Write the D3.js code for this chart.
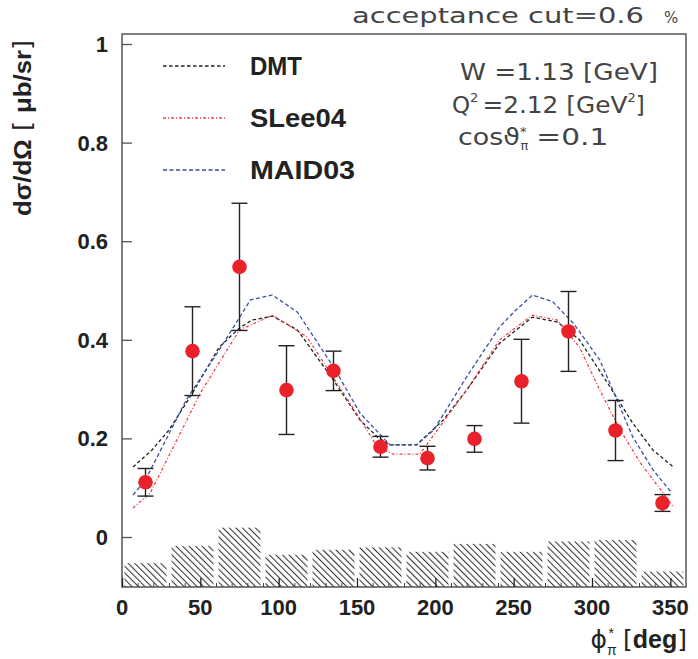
<!DOCTYPE html>
<html><head><meta charset="utf-8">
<script src="https://cdn.jsdelivr.net/npm/d3@7"></script>
<style>body{margin:0;background:#fff}svg{display:block}</style>
</head><body>
<svg id="c" width="698" height="659"></svg>
<script>
// ---- data ----
const phiBins = [15,45,75,105,135,165,195,225,255,285,315,345];
const xsec    = [0.111,0.377,0.548,0.298,0.337,0.183,0.160,0.199,0.316,0.417,0.216,0.069];
const xsecErr = [0.028,0.090,0.129,0.090,0.040,0.021,0.024,0.027,0.085,0.081,0.061,0.017];
const sysErr  = [-0.053,-0.018,0.019,-0.036,-0.026,-0.021,-0.030,-0.014,-0.030,-0.009,-0.006,-0.070];

const dmtPhi = [7,19,30,45,62,75,83,96,112,135,152,163,171,188,205,220,241,262,278,292,310,326,339,352];
const dmtVal = [0.142,0.176,0.217,0.292,0.385,0.424,0.440,0.448,0.420,0.318,0.237,0.203,0.187,0.187,0.237,0.298,0.393,0.446,0.436,0.400,0.312,0.231,0.176,0.142];

const sleePhi = [7,18,50,75,96,118,147,163,173,190,199,220,241,262,278,292,305,318,331,344,352];
const sleeVal = [0.059,0.089,0.292,0.420,0.450,0.406,0.264,0.183,0.168,0.168,0.207,0.298,0.400,0.450,0.440,0.385,0.298,0.217,0.150,0.095,0.061];

const maidPhi = [7,15,41,62,82,96,112,135,152,171,188,199,220,241,250,262,275,288,305,316,326,339,351];
const maidVal = [0.085,0.116,0.278,0.379,0.481,0.491,0.456,0.345,0.251,0.187,0.187,0.217,0.325,0.426,0.456,0.491,0.477,0.434,0.359,0.278,0.203,0.136,0.089];

const xTicks = [0,50,100,150,200,250,300,350];
const yTicks = [0,0.2,0.4,0.6,0.8,1];
const legendNames = ["DMT","SLee04","MAID03"];

// ---- layout ----
const svg = d3.select("#c");
const x = d3.scaleLinear().domain([0,360]).range([122,686]);
const y = d3.scaleLinear().domain([-0.1014,1.0203]).range([587,34]);
const frameCol = "#555";
const fnt = "Liberation Sans, Arial, sans-serif";
const fntL = "DejaVu Sans, sans-serif";

// hatch pattern
const defs = svg.append("defs");
const pat = defs.append("pattern").attr("id","hatch").attr("patternUnits","userSpaceOnUse")
  .attr("width",4.6).attr("height",4.6).attr("patternTransform","rotate(-45)");
pat.append("rect").attr("width",4.6).attr("height",4.6).attr("fill","#fff");
pat.append("line").attr("x1",0).attr("y1",0).attr("x2",0).attr("y2",4.6)
  .attr("stroke","#333").attr("stroke-width",2.1);

// systematic bars
svg.append("g").selectAll("rect").data(phiBins).join("rect")
  .attr("x",(d)=>x(d-13.4)).attr("width",(d)=>x(d+13.4)-x(d-13.4))
  .attr("y",(d,i)=>y(sysErr[i])).attr("height",(d,i)=>y(y.domain()[0])-y(sysErr[i]))
  .attr("fill","url(#hatch)");

// frame
svg.append("rect").attr("x",x(0)).attr("y",y(y.domain()[1]))
  .attr("width",x(360)-x(0)).attr("height",y(y.domain()[0])-y(y.domain()[1]))
  .attr("fill","none").attr("stroke",frameCol).attr("stroke-width",1.5);

// y axis
const yAxis = d3.axisRight(y).tickValues(yTicks).tickSize(10).tickFormat("");
const gy = svg.append("g").attr("transform",`translate(${x(0)},0)`).call(yAxis);
gy.select(".domain").remove();
gy.selectAll("line").attr("stroke",frameCol).attr("stroke-width",1.3);
svg.append("g").selectAll("text").data(yTicks).join("text")
  .attr("x",108).attr("y",d=>y(d)+8).attr("text-anchor","end")
  .attr("font-family",fnt).attr("font-weight","bold")
  .attr("font-size",22).attr("fill","#222").text(d=>d===0?"0":(d===1?"1":d3.format(".1f")(d)));

// x axis
const xAxis = d3.axisTop(x).tickValues(xTicks).tickSize(9).tickFormat("");
const gx = svg.append("g").attr("transform",`translate(0,${y(y.domain()[0])})`).call(xAxis);
gx.select(".domain").remove();
gx.selectAll("line").attr("stroke","#222").attr("stroke-width",1.3);
const xMinor = d3.axisTop(x).tickValues(d3.range(10,360,10).filter(v=>v%50!==0)).tickSize(4).tickFormat("");
const gxm = svg.append("g").attr("transform",`translate(0,${y(y.domain()[0])})`).call(xMinor);
gxm.select(".domain").remove();
gxm.selectAll("line").attr("stroke","#444").attr("stroke-width",1);
svg.append("g").selectAll("text").data(xTicks).join("text")
  .attr("x",d=>x(d)).attr("y",615).attr("text-anchor","middle")
  .attr("font-family",fnt).attr("font-weight","bold")
  .attr("font-size",22).attr("fill","#222").text(d=>d);

// model curves
const line = d3.line().x(d=>x(d[0])).y(d=>y(d[1]));
const curves = [
  {p:dmtPhi, v:dmtVal, col:"#222", dash:"3.5,2.5"},
  {p:sleePhi, v:sleeVal, col:"#f0404a", dash:"3,2,1,2"},
  {p:maidPhi, v:maidVal, col:"#3a4fa8", dash:"4,2.5"}
];
curves.forEach(c=>{
  svg.append("path").datum(c.p.map((p,i)=>[p,c.v[i]])).attr("d",line)
    .attr("fill","none").attr("stroke",c.col).attr("stroke-width",1.3).attr("stroke-dasharray",c.dash);
});

// error bars
const eg = svg.append("g").attr("stroke","#222").attr("stroke-width",1.4);
phiBins.forEach((p,i)=>{
  const cx = x(p), y1 = y(xsec[i]+xsecErr[i]), y2 = y(xsec[i]-xsecErr[i]);
  eg.append("line").attr("x1",cx).attr("x2",cx).attr("y1",y1).attr("y2",y2);
  eg.append("line").attr("x1",cx-8).attr("x2",cx+8).attr("y1",y1).attr("y2",y1);
  eg.append("line").attr("x1",cx-8).attr("x2",cx+8).attr("y1",y2).attr("y2",y2);
});
svg.append("g").selectAll("circle").data(phiBins).join("circle")
  .attr("cx",d=>x(d)).attr("cy",(d,i)=>y(xsec[i])).attr("r",7.3).attr("fill","#e8212b");

// legend
const legY = [66,118,170];
const legW = [52,96,105];
legendNames.forEach((n,i)=>{
  const c = curves[i];
  svg.append("line").attr("x1",163).attr("x2",225).attr("y1",legY[i]).attr("y2",legY[i])
    .attr("stroke",c.col).attr("stroke-width",1.3).attr("stroke-dasharray",c.dash);
  svg.append("text").attr("x",250).attr("y",legY[i]+9)
    .attr("font-family",fnt).attr("font-weight","bold")
    .attr("font-size",25).attr("fill","#222")
    .attr("textLength",legW[i]).attr("lengthAdjust","spacingAndGlyphs").text(n);
});

// annotations
svg.append("text").attr("x",352).attr("y",23).attr("font-family",fntL).attr("font-size",21)
  .attr("fill","#444").attr("textLength",292).attr("lengthAdjust","spacingAndGlyphs").text("acceptance cut=0.6");
svg.append("text").attr("x",664).attr("y",23).attr("font-family",fntL).attr("font-size",15)
  .attr("fill","#444").text("%");

const ann = svg.append("g").attr("font-family",fntL).attr("font-size",23).attr("fill","#444");
ann.append("text").attr("x",460).attr("y",80).attr("textLength",198).attr("lengthAdjust","spacingAndGlyphs").text("W =1.13 [GeV]");
const q = ann.append("text").attr("x",452).attr("y",113);
q.append("tspan").text("Q");
q.append("tspan").attr("font-size",13).attr("dy",-11).text("2");
q.append("tspan").attr("dy",11).attr("dx",4).attr("textLength",145).attr("lengthAdjust","spacingAndGlyphs").text("=2.12 [GeV");
q.append("tspan").attr("font-size",13).attr("dy",-11).text("2");
q.append("tspan").attr("dy",11).text("]");
const cs = ann.append("text").attr("x",458).attr("y",145);
cs.append("tspan").attr("textLength",62).attr("lengthAdjust","spacingAndGlyphs").text("cosϑ");
cs.append("tspan").attr("font-size",13).attr("dy",-9).text("*");
cs.append("tspan").attr("font-size",13).attr("dy",14).attr("dx",-6).text("π");
cs.append("tspan").attr("dy",-5).attr("dx",8).attr("textLength",72).attr("lengthAdjust","spacingAndGlyphs").text("=0.1");

// axis titles
const yt = svg.append("text").attr("transform","translate(31,40) rotate(-90)")
  .attr("text-anchor","end").attr("font-family",fnt).attr("font-size",24).attr("fill","#222")
  .attr("textLength",176).attr("lengthAdjust","spacingAndGlyphs");
yt.append("tspan").attr("font-weight","bold").text("dσ/dΩ");
yt.append("tspan").attr("font-family",fntL).attr("font-weight","normal").text(" [ ");
yt.append("tspan").attr("font-weight","bold").text("μb/sr");
yt.append("tspan").attr("font-family",fntL).text("]");

const xt = svg.append("text").attr("x",687).attr("y",648).attr("text-anchor","end")
  .attr("font-family",fnt).attr("font-size",25).attr("fill","#222");
xt.append("tspan").attr("font-family",fntL).text("ϕ");
xt.append("tspan").attr("font-size",14).attr("dy",7).text("π");
xt.append("tspan").attr("font-size",14).attr("dy",-17).attr("dx",-8).text("*");
xt.append("tspan").attr("dy",10).attr("dx",9).attr("font-family",fntL).text("[");
xt.append("tspan").attr("font-weight","bold").text("deg");
xt.append("tspan").attr("font-family",fntL).text("]");
</script>
</body></html>
